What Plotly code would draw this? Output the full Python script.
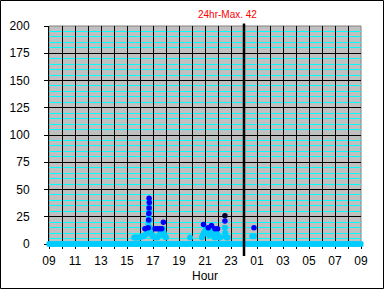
import plotly.graph_objects as go

# ---- data (times as HH:MM, chart starts at 09:00) ----
x_tick_labels = ["09", "11", "13", "15", "17", "19", "21", "23", "01", "03", "05", "07", "09"]
y_tick_values = [0, 25, 50, 75, 100, 125, 150, 175, 200]

cyan_times = ["15:33", "15:38", "15:45", "15:52", "16:00", "16:08", "16:15", "16:22", "16:28",
              "16:33", "16:36", "16:38", "16:39", "16:40", "16:41", "16:42", "16:43", "16:44",
              "16:45", "16:47", "16:50", "16:55", "17:00", "17:10", "17:20", "17:30", "17:35",
              "17:40", "17:45", "17:50", "17:55", "18:00",
              "19:51",
              "20:46", "20:50", "20:55", "21:00", "21:05", "21:10", "21:15", "21:20", "21:25",
              "21:30", "21:35", "21:40", "21:45", "21:50", "21:55", "22:00", "22:05", "22:10",
              "22:32", "22:33", "22:34", "22:40", "22:45",
              "00:38", "00:46"]
cyan_values = [6, 6, 6, 6, 6, 7, 7, 8, 9,
               12, 15, 18, 22, 26, 30, 34, 38, 30,
               22, 15, 10, 8, 7, 6, 6, 8, 10,
               12, 14, 10, 7, 6,
               6,
               6, 8, 10, 12, 14, 12, 10, 8, 12,
               14, 10, 8, 6, 8, 10, 7, 6, 6,
               15, 10, 7, 6, 6,
               7, 7]

blue_times = ["16:23", "16:38", "16:40", "16:41", "16:42", "16:43", "16:42",
              "17:10", "17:20", "17:30", "17:40", "17:48",
              "20:53", "21:15", "21:30", "21:46", "21:58", "22:32",
              "00:46"]
blue_values = [14, 15, 22, 28, 33, 38, 42,
               14, 14, 14, 14, 20,
               18, 15, 17, 14, 14, 21,
               15]

navy_times = ["22:32"]
navy_values = [26]

baseline_step_min = 5  # zero readings all day long
max_value = 42


def to_hours(t):
    hh, mm = map(int, t.split(":"))
    h = hh + mm / 60 - 9
    return h + 24 if h < 0 else h


baseline_x = [m / 60 for m in range(0, 24 * 60 + 1, baseline_step_min)]
baseline_y = [0 for _ in baseline_x]

CYAN = "#00CCFF"
fig = go.Figure()
fig.add_trace(go.Scatter(x=baseline_x, y=baseline_y, mode="markers",
                         marker=dict(color=CYAN, size=5, symbol="square", line=dict(width=0)),
                         cliponaxis=False, hoverinfo="skip"))
fig.add_trace(go.Scatter(x=[to_hours(t) for t in cyan_times], y=cyan_values, mode="markers",
                         marker=dict(color=CYAN, size=6, line=dict(width=0)),
                         cliponaxis=False))
fig.add_trace(go.Scatter(x=[to_hours(t) for t in blue_times], y=blue_values, mode="markers",
                         marker=dict(color="#0000FF", size=5.5, line=dict(width=0)),
                         cliponaxis=False))
fig.add_trace(go.Scatter(x=[to_hours(t) for t in navy_times], y=navy_values, mode="markers",
                         marker=dict(color="#000033", size=5.5, line=dict(width=0)),
                         cliponaxis=False))

L, R, T, B = 49, 24, 26, 46
W, H = 385, 290
pw, ph = W - L - R, H - T - B

FONT = "Arial, Liberation Sans, sans-serif"

fig.update_layout(
    width=W, height=H,
    margin=dict(l=L, r=R, t=T, b=B, pad=0, autoexpand=False),
    paper_bgcolor="white",
    plot_bgcolor="#C0C0C0",
    showlegend=False,
    font=dict(family=FONT, size=11, color="black"),
    xaxis=dict(
        range=[0, 24],
        tickmode="array",
        tickvals=list(range(0, 25)),
        ticktext=[x_tick_labels[i // 2] if i % 2 == 0 else "" for i in range(25)],
        showgrid=True, gridcolor="black", gridwidth=1,
        ticks="outside", ticklen=4, tickcolor="black",
        showline=True, linecolor="black", linewidth=1,
        zeroline=False,
        layer="below traces",
        ticklabelstandoff=2,
        tickfont=dict(size=12),
        automargin=False,
        title=dict(text="Hour", font=dict(size=12), standoff=4),
        fixedrange=True,
    ),
    yaxis=dict(
        range=[0, 200],
        tickmode="array",
        tickvals=y_tick_values,
        showgrid=True, gridcolor="black", gridwidth=1,
        minor=dict(dtick=5, showgrid=True, gridcolor="#00FFFF", gridwidth=1, ticks=""),
        ticks="outside", ticklen=4, tickcolor="black",
        showline=True, linecolor="black", linewidth=1,
        zeroline=False,
        layer="below traces",
        ticklabelstandoff=12,
        tickfont=dict(size=12),
        automargin=False,
        fixedrange=True,
    ),
)

# plot area frame (grey) and figure border
fig.add_shape(type="rect", xref="paper", yref="paper", x0=0, x1=1, y0=0, y1=1,
              line=dict(color="#808080", width=1), layer="below")
fig.add_shape(type="rect", xref="paper", yref="paper",
              x0=(0.5 - L) / pw, x1=(W - 1.5 - L) / pw,
              y0=(T + ph - (H - 1.5)) / ph, y1=(T + ph - 0.5) / ph,
              line=dict(color="black", width=1))
# midnight marker
fig.add_shape(type="line", xref="x", yref="paper", x0=to_hours("00:00"), x1=to_hours("00:00"),
              y0=(T + ph - 256) / ph, y1=(T + ph - 23.5) / ph,
              line=dict(color="black", width=2.5), layer="above")

fig.add_annotation(text=f"24hr-Max. {max_value}", xref="paper", yref="paper",
                   x=(227 - L) / pw, y=(T + ph - 14) / ph, showarrow=False,
                   font=dict(color="#FF0000", size=10), xanchor="center", yanchor="middle")

fig.write_html("out.html")
